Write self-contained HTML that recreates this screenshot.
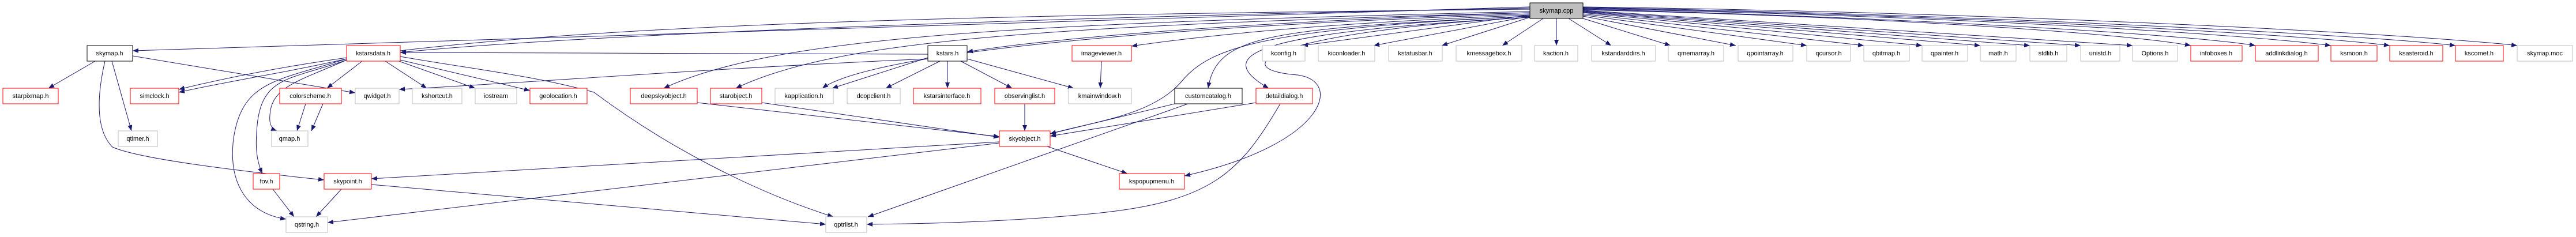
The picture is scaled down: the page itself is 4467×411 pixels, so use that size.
<!DOCTYPE html>
<html><head><meta charset="utf-8"><style>
html,body{margin:0;padding:0;background:#fff;}
svg{display:block;}
text{font-family:"Liberation Sans Narrow","Liberation Sans",sans-serif;font-size:11px;fill:#000;}
.e{fill:none;stroke:#191970;stroke-width:1;}
.r{fill:#fff;stroke:#ff0000;stroke-width:1;}
.g{fill:#fff;stroke:#bfbfbf;stroke-width:1;}
.b{fill:#fff;stroke:#000;stroke-width:1;}
</style></head><body>
<svg width="4467" height="411" viewBox="0 0 4467 411" xmlns="http://www.w3.org/2000/svg">
<defs><marker id="a" markerWidth="10" markerHeight="8" refX="10" refY="4" orient="auto" markerUnits="userSpaceOnUse"><path d="M0,0 L10,4 L0,8 z" fill="#191970"/></marker></defs>
<g class="e" marker-end="url(#a)">
<path d="M2653,12 L230,88"/>
<path d="M2653,14 C1800,30 1000,60 694,91"/>
<path d="M2653,16 C1200,30 700,60 310,155"/>
<path d="M2653,20 C1800,40 1350,60 1151,153"/>
<path d="M2653,22 C1800,45 1450,70 1276,153"/>
<path d="M2653,24 C1900,50 1500,100 1426,153"/>
<path d="M1609,100 L1443,153"/>
<path d="M2653,22 C2100,40 1800,70 1677,90"/>
<path d="M2653,26 C2300,40 2100,60 1962,80"/>
<path d="M2653,28 C2200,50 2100,80 2050,140 C2000,200 1900,210 1821,232"/>
<path d="M2653,28 C2200,50 2110,60 2095,153"/>
<path d="M2653,30 C2200,55 2090,90 2200,153"/>
<path d="M2653,30 C2200,55 2120,120 2250,130 C2330,140 2300,250 2054,305"/>
<path d="M2653,26 L2258,79"/>
<path d="M2653,28 L2382,79"/>
<path d="M2653,30 L2500,79"/>
<path d="M2676,32 L2605,79"/>
<path d="M2699,32 L2699,79"/>
<path d="M2720,32 L2794,79"/>
<path d="M2745,32 L2897,79"/>
<path d="M2745,28 L3010,79"/>
<path d="M2745,26 L3133,79"/>
<path d="M2745,24 L3232,79"/>
<path d="M2745,22 L3333,79"/>
<path d="M2745,21 L3434,79"/>
<path d="M2745,20 L3520,79"/>
<path d="M2745,19 L3608,79"/>
<path d="M2745,18 L3698,79"/>
<path d="M2745,17 C3300,30 3700,60 3799,79"/>
<path d="M2745,16 C3300,30 3800,60 3911,79"/>
<path d="M2745,15 C3400,28 3900,60 4042,79"/>
<path d="M2745,14 C3400,26 4000,60 4144,79"/>
<path d="M2745,13 C3400,24 4100,60 4258,79"/>
<path d="M2745,12 C3500,22 4200,60 4365,79"/>
<!-- skymap.h -->
<path d="M165,106 L84,153"/>
<path d="M194,106 L228,227"/>
<path d="M230,97 L616,161"/>
<path d="M182,106 C165,180 170,230 195,255 C240,275 400,295 562,312"/>
<!-- kstarsdata.h -->
<path d="M628,106 L567,153"/>
<path d="M668,106 L740,153"/>
<path d="M686,104 L824,153"/>
<path d="M694,104 L919,157"/>
<path d="M694,98 C820,120 920,130 1030,160 C1150,250 1300,330 1445,376"/>
<path d="M601,102 C500,125 400,140 310,160"/>
<path d="M601,104 C520,140 470,150 468,200 C466,220 475,225 480,227"/>
<path d="M601,104 C500,140 450,130 445,230 C442,270 450,290 455,301"/>
<path d="M601,102 C480,140 420,140 405,240 C395,320 430,370 496,380"/>
<!-- kstars.h -->
<path d="M1609,94 L694,91"/>
<path d="M1609,102 C1200,120 900,145 692,155"/>
<path d="M1630,106 L1536,153"/>
<path d="M1643,106 L1643,153"/>
<path d="M1666,106 L1755,153"/>
<path d="M1677,102 L1862,153"/>
<!-- others -->
<path d="M530,180 L515,227"/>
<path d="M560,180 L540,227"/>
<path d="M473,328 L510,376"/>
<path d="M592,328 L548,376"/>
<path d="M644,320 L1432,389"/>
<path d="M1910,106 L1908,153"/>
<path d="M1777,180 L1777,227"/>
<path d="M1209,178 L1733,237"/>
<path d="M1321,178 L1733,238"/>
<path d="M2037,180 L1821,232"/>
<path d="M2060,180 L1505,376"/>
<path d="M2178,178 L1821,236"/>
<path d="M2220,180 C2150,300 2100,350 1900,370 C1750,385 1600,388 1503,389"/>
<path d="M1816,254 L1955,301"/>
<path d="M1733,246 L644,310"/>
<path d="M1733,248 L568,386"/>
</g>
<g>
<rect class="b" x="2653" y="5" width="92" height="27" style="fill:#bfbfbf"/><text x="2699" y="22" text-anchor="middle">skymap.cpp</text>
<rect class="b" x="151" y="79" width="79" height="27"/><text x="190" y="96" text-anchor="middle">skymap.h</text>
<rect class="r" x="601" y="79" width="93" height="27"/><text x="647" y="96" text-anchor="middle">kstarsdata.h</text>
<rect class="b" x="1609" y="79" width="68" height="27"/><text x="1643" y="96" text-anchor="middle">kstars.h</text>
<rect class="r" x="1859" y="79" width="103" height="27"/><text x="1910" y="96" text-anchor="middle">imageviewer.h</text>
<rect class="g" x="2189" y="79" width="74" height="27"/><text x="2226" y="96" text-anchor="middle">kconfig.h</text>
<rect class="g" x="2286" y="79" width="98" height="27"/><text x="2335" y="96" text-anchor="middle">kiconloader.h</text>
<rect class="g" x="2408" y="79" width="93" height="27"/><text x="2454" y="96" text-anchor="middle">kstatusbar.h</text>
<rect class="g" x="2525" y="79" width="114" height="27"/><text x="2582" y="96" text-anchor="middle">kmessagebox.h</text>
<rect class="g" x="2661" y="79" width="75" height="27"/><text x="2698" y="96" text-anchor="middle">kaction.h</text>
<rect class="g" x="2760" y="79" width="111" height="27"/><text x="2815" y="96" text-anchor="middle">kstandarddirs.h</text>
<rect class="g" x="2893" y="79" width="96" height="27"/><text x="2941" y="96" text-anchor="middle">qmemarray.h</text>
<rect class="g" x="3014" y="79" width="95" height="27"/><text x="3061" y="96" text-anchor="middle">qpointarray.h</text>
<rect class="g" x="3133" y="79" width="76" height="27"/><text x="3171" y="96" text-anchor="middle">qcursor.h</text>
<rect class="g" x="3232" y="79" width="79" height="27"/><text x="3271" y="96" text-anchor="middle">qbitmap.h</text>
<rect class="g" x="3333" y="79" width="79" height="27"/><text x="3372" y="96" text-anchor="middle">qpainter.h</text>
<rect class="g" x="3434" y="79" width="62" height="27"/><text x="3465" y="96" text-anchor="middle">math.h</text>
<rect class="g" x="3520" y="79" width="64" height="27"/><text x="3552" y="96" text-anchor="middle">stdlib.h</text>
<rect class="g" x="3608" y="79" width="68" height="27"/><text x="3642" y="96" text-anchor="middle">unistd.h</text>
<rect class="g" x="3698" y="79" width="78" height="27"/><text x="3737" y="96" text-anchor="middle">Options.h</text>
<rect class="r" x="3799" y="79" width="89" height="27"/><text x="3843" y="96" text-anchor="middle">infoboxes.h</text>
<rect class="r" x="3911" y="79" width="109" height="27"/><text x="3965" y="96" text-anchor="middle">addlinkdialog.h</text>
<rect class="r" x="4042" y="79" width="80" height="27"/><text x="4082" y="96" text-anchor="middle">ksmoon.h</text>
<rect class="r" x="4144" y="79" width="92" height="27"/><text x="4190" y="96" text-anchor="middle">ksasteroid.h</text>
<rect class="r" x="4258" y="79" width="83" height="27"/><text x="4299" y="96" text-anchor="middle">kscomet.h</text>
<rect class="g" x="4365" y="79" width="96" height="27"/><text x="4413" y="96" text-anchor="middle">skymap.moc</text>

<rect class="r" x="5" y="153" width="96" height="27"/><text x="53" y="170" text-anchor="middle">starpixmap.h</text>
<rect class="r" x="226" y="153" width="84" height="27"/><text x="268" y="170" text-anchor="middle">simclock.h</text>
<rect class="r" x="485" y="153" width="107" height="27"/><text x="538" y="170" text-anchor="middle">colorscheme.h</text>
<rect class="g" x="616" y="153" width="76" height="27"/><text x="654" y="170" text-anchor="middle">qwidget.h</text>
<rect class="g" x="715" y="153" width="86" height="27"/><text x="758" y="170" text-anchor="middle">kshortcut.h</text>
<rect class="g" x="824" y="153" width="72" height="27"/><text x="860" y="170" text-anchor="middle">iostream</text>
<rect class="r" x="919" y="153" width="99" height="27"/><text x="968" y="170" text-anchor="middle">geolocation.h</text>
<rect class="r" x="1093" y="153" width="116" height="27"/><text x="1151" y="170" text-anchor="middle">deepskyobject.h</text>
<rect class="r" x="1232" y="153" width="89" height="27"/><text x="1276" y="170" text-anchor="middle">starobject.h</text>
<rect class="g" x="1344" y="153" width="101" height="27"/><text x="1394" y="170" text-anchor="middle">kapplication.h</text>
<rect class="g" x="1469" y="153" width="92" height="27"/><text x="1515" y="170" text-anchor="middle">dcopclient.h</text>
<rect class="r" x="1584" y="153" width="117" height="27"/><text x="1642" y="170" text-anchor="middle">kstarsinterface.h</text>
<rect class="r" x="1725" y="153" width="104" height="27"/><text x="1777" y="170" text-anchor="middle">observinglist.h</text>
<rect class="g" x="1853" y="153" width="109" height="27"/><text x="1907" y="170" text-anchor="middle">kmainwindow.h</text>
<rect class="b" x="2037" y="153" width="117" height="27"/><text x="2095" y="170" text-anchor="middle">customcatalog.h</text>
<rect class="r" x="2178" y="153" width="98" height="27"/><text x="2227" y="170" text-anchor="middle">detaildialog.h</text>

<rect class="g" x="205" y="227" width="68" height="27"/><text x="239" y="244" text-anchor="middle">qtimer.h</text>
<rect class="g" x="471" y="227" width="63" height="27"/><text x="502" y="244" text-anchor="middle">qmap.h</text>
<rect class="r" x="1733" y="227" width="88" height="27"/><text x="1777" y="244" text-anchor="middle">skyobject.h</text>

<rect class="r" x="439" y="301" width="46" height="27"/><text x="462" y="318" text-anchor="middle">fov.h</text>
<rect class="r" x="562" y="301" width="82" height="27"/><text x="603" y="318" text-anchor="middle">skypoint.h</text>
<rect class="r" x="1941" y="301" width="113" height="27"/><text x="1997" y="318" text-anchor="middle">kspopupmenu.h</text>

<rect class="g" x="496" y="376" width="72" height="27"/><text x="532" y="393" text-anchor="middle">qstring.h</text>
<rect class="g" x="1432" y="376" width="71" height="27"/><text x="1467" y="393" text-anchor="middle">qptrlist.h</text>
</g>
</svg>
</body></html>
